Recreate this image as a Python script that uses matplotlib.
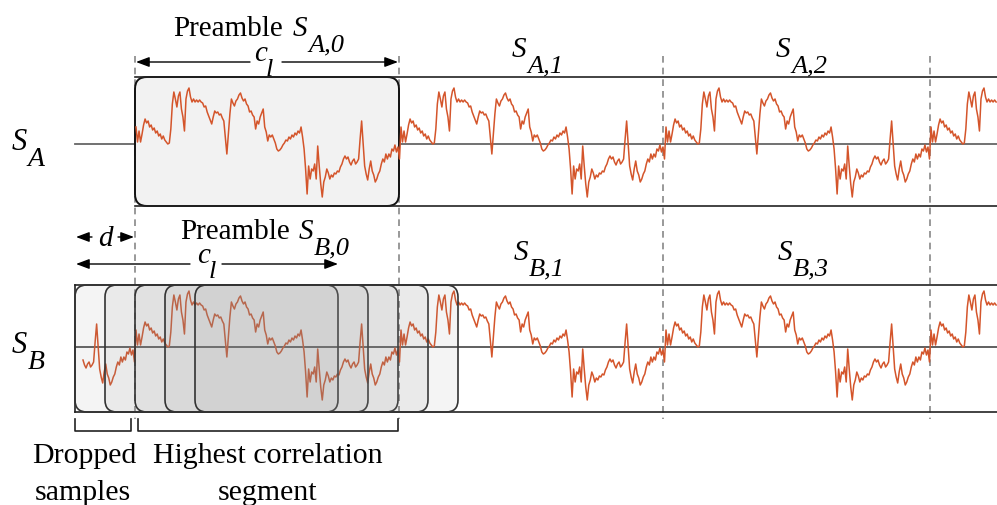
import numpy as np
import matplotlib
matplotlib.use('Agg')
import matplotlib.pyplot as plt
from matplotlib.patches import FancyBboxPatch, FancyArrowPatch

# one period of the recorded signal (amplitude above the centre line, px),
# sampled evenly over the period
period_amp = [17, 2, 13, 2, 10, 19, 25, 21, 23, 17, 19, 14, 16, 11, 13, 8, 10, 5, 8, 4,
              2, 0, 1, 15, 40, 52, 45, 37, 48, 52, 35, 27, 13, 45, 53, 56, 47, 42, 45, 42,
              44, 42, 44, 42, 41, 37, 38, 32, 28, 24, 20, 27, 33, 31, 32, 29, 30, 26, 23, 7,
              -10, 10, 30, 45, 41, 38, 43, 45, 49, 51, 46, 43, 45, 40, 38, 32, 33, 29, 27, 15,
              23, 20, 27, 31, 35, 17, 12, 3, 9, 7, 9, 5, 1, -5, -7, -6, -4, -1, 1, 4,
              3, 7, 5, 9, 7, 11, 9, 13, 11, 17, 7, -5, -25, -50, -22, -35, -25, -27, -20, -35,
              -2, -22, -40, -53, -38, -33, -25, -29, -35, -31, -33, -29, -30, -27, -28, -23, -20, -15, -12, -15,
              -13, -18, -21, -17, -15, -20, -18, -15, 5, 23, 0, -22, -30, -36, -25, -17, -27, -31, -38, -35,
              -30, -27, -20, -15, -18, -10, -15, -10, -13, -5, -7, -1, -8, -3, -15]
period_len = 265          # samples per preamble (c_l), in px
segment_starts = [135, 399, 663, 930]
segment_labels_a = ['A,1', 'A,2']
segment_labels_b = ['B,1', 'B,3']
window_shifts = [0, 30, 60, 90, 120]   # candidate windows in S_B
d_shift = 60

plt.rcParams['font.family'] = ['Liberation Serif', 'DejaVu Serif']

W, H = 997, 506
fig = plt.figure(figsize=(W / 100, H / 100), dpi=100)
ax = fig.add_axes([0, 0, 1, 1])
ax.set_xlim(0, W)
ax.set_ylim(H, 0)
ax.axis('off')

sig_color = '#d4552b'
ya_c, ya_top, ya_bot = 145, 78, 207
yb_c, yb_top, yb_bot = 348, 286, 413
x0 = segment_starts[0]
xb0 = x0 - d_shift

# tile the period over the whole strip
amp = np.array(period_amp, dtype=float)
t = np.arange(len(amp)) * period_len / len(amp)
xs = np.concatenate([x0 + 1 + t + k * period_len for k in range(-1, 4)])
ys = np.concatenate([amp for k in range(-1, 4)])

# dashed segment boundaries
for xd in segment_starts:
    ax.plot([xd, xd], [57, 420], color='#888888', lw=1.2, ls=(0, (4, 3)), zorder=1)

# ---- S_A ----
ax.plot([75, W], [ya_c, ya_c], color='#666666', lw=1.3, zorder=2)
ax.plot([x0, W], [ya_top, ya_top], color='#222222', lw=1.2, zorder=3)
ax.plot([x0, W], [ya_bot, ya_bot], color='#222222', lw=1.2, zorder=3)
ax.add_patch(FancyBboxPatch((x0, ya_top), period_len - 1, ya_bot - ya_top,
                            boxstyle='round,pad=0,rounding_size=12',
                            fc='#f2f2f2', ec='#111111', lw=1.4, zorder=2.5))
ma = (xs >= x0 + 1) & (xs <= W)
ax.plot(xs[ma], ya_c - ys[ma], color=sig_color, lw=1.1, zorder=4)

# ---- S_B ----
ax.plot([xb0, W], [yb_c, yb_c], color='#444444', lw=1.2, zorder=2)
ax.plot([xb0, W], [yb_top, yb_top], color='#222222', lw=1.2, zorder=3)
ax.plot([xb0, W], [yb_bot, yb_bot], color='#222222', lw=1.2, zorder=3)
ax.plot([xb0, xb0], [yb_top, yb_bot], color='#222222', lw=1.2, zorder=3)
mb = (xs >= xb0 + 8) & (xs <= W)
ax.plot(xs[mb], yb_c - ys[mb], color=sig_color, lw=1.1, zorder=4)
for s in window_shifts:
    ax.add_patch(FancyBboxPatch((xb0 + s, yb_top), period_len - 2, yb_bot - yb_top,
                                boxstyle='round,pad=0,rounding_size=12',
                                fc=(0.55, 0.55, 0.55, 0.09), ec='#333333', lw=1.2, zorder=5))


def arrow(xa, xb, y):
    ax.add_patch(FancyArrowPatch((xa, y), (xb, y), arrowstyle='-|>,head_length=0.8,head_width=0.3',
                                 mutation_scale=10, color='black', lw=1.0,
                                 shrinkA=0, shrinkB=0, zorder=6))


def sym(x, y, base, sub, size=21, subsize=19, dx=15, dy=15):
    ax.text(x, y, base, fontsize=size, style='italic', ha='left', va='baseline', zorder=7)
    ax.text(x + dx, y + dy, sub, fontsize=subsize, style='italic', ha='left', va='baseline', zorder=7)


# labels above S_A
ax.text(173, 36, 'Preamble', fontsize=21, ha='left', va='baseline')
sym(293, 36, 'S', 'A,0')
arrow(250, x0 + 1, 63)
arrow(282, 398, 63)
sym(254, 61, 'c', 'l', dx=12, dy=15)
for xs_, lab in zip(segment_starts[1:3], segment_labels_a):
    sym(xs_ + 113, 57, 'S', lab)
sym(12, 150, 'S', 'A', size=22, subsize=20, dx=16, dy=16)

# labels above S_B
ax.text(180, 239, 'Preamble', fontsize=21, ha='left', va='baseline')
sym(299, 239, 'S', 'B,0')
arrow(92, xb0 + 1, 238)
arrow(118, x0 - 1, 238)
ax.text(98, 246, 'd', fontsize=21, style='italic', ha='left', va='baseline')
arrow(190, xb0 + 1, 265)
arrow(222, 338, 265)
sym(197, 263, 'c', 'l', dx=12, dy=15)
for xs_, lab in zip(segment_starts[1:3], segment_labels_b):
    sym(xs_ + 115, 260, 'S', lab)
sym(12, 353, 'S', 'B', size=22, subsize=20, dx=16, dy=16)

# brackets below
ax.plot([75, 75, 131, 131], [420, 432, 432, 420], color='#222222', lw=1.2)
ax.plot([138, 138, 398, 398], [420, 432, 432, 420], color='#222222', lw=1.2)
ax.text(84, 463, 'Dropped', fontsize=21.5, ha='center', va='baseline')
ax.text(83, 500, 'samples', fontsize=21.5, ha='center', va='baseline')
ax.text(268, 463, 'Highest correlation', fontsize=21.5, ha='center', va='baseline')
ax.text(268, 500, 'segment', fontsize=21.5, ha='center', va='baseline')

fig.savefig('out.png', dpi=100)
